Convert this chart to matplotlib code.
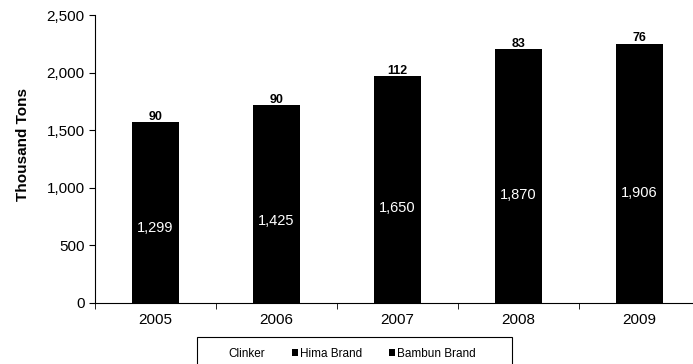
import matplotlib.pyplot as plt
from matplotlib.patches import Patch, Rectangle

plt.rcParams['font.family'] = ['Liberation Sans', 'DejaVu Sans']

years = ['2005', '2006', '2007', '2008', '2009']
clinker = [1299, 1425, 1650, 1870, 1906]
hima_brand = [182, 201, 210, 251, 271]
bambun_brand = [90, 90, 112, 83, 76]

fig = plt.figure(figsize=(6.93, 3.64), dpi=100)
ax = fig.add_axes([0.137, 0.168, 0.873, 0.79])

x = list(range(len(years)))
width = 0.39
bottom2 = [c + h for c, h in zip(clinker, hima_brand)]
totals = [b + t for b, t in zip(bottom2, bambun_brand)]

ax.bar(x, clinker, width, color='black', label='Clinker')
ax.bar(x, hima_brand, width, bottom=clinker, color='black', label='Hima Brand')
ax.bar(x, bambun_brand, width, bottom=bottom2, color='black', label='Bambun Brand')

for i in x:
    ax.text(i, clinker[i] / 2, f"{clinker[i]:,}", color='white', ha='center',
            va='center', fontsize=10.5)
    ax.text(i, totals[i] - 5, str(bambun_brand[i]), color='black', ha='center',
            va='bottom', fontsize=9, fontweight='bold')

ax.set_xlim(-0.5, 4.5)
ax.set_ylim(0, 2500)
ax.set_yticks(range(0, 2501, 500))
ax.set_yticklabels([f"{v:,}" for v in range(0, 2501, 500)], fontsize=11)
ax.set_xticks(x)
ax.set_xticklabels(years, fontsize=11)
ax.set_xticks([i - 0.5 for i in range(len(years) + 1)], minor=True)
ax.tick_params(axis='x', which='major', length=0, pad=7)
ax.tick_params(axis='x', which='minor', length=4, direction='out')
ax.tick_params(axis='y', length=4, direction='out')
ax.spines['top'].set_visible(False)
ax.spines['right'].set_visible(False)
ax.set_ylabel('Thousand Tons', fontsize=11, fontweight='bold')
ax.yaxis.set_label_coords(-0.108, 0.55)

# legend: Clinker has no visible swatch, the brands get small black squares
handles = [Patch(facecolor='white', edgecolor='white', label='Clinker'),
           Patch(facecolor='black', label='Hima Brand'),
           Patch(facecolor='black', label='Bambun Brand')]
fig.legend(handles=handles, loc='center left', bbox_to_anchor=(0.310, 0.0275),
           ncol=3, fontsize=8.5, frameon=False, handlelength=0.5,
           handleheight=0.5, handletextpad=0.15, columnspacing=2.3,
           borderpad=0)
fig.add_artist(Rectangle((197 / 693, -0.05), 315 / 693, 0.1242,
                         transform=fig.transFigure, fill=False,
                         edgecolor='black', linewidth=0.8))

fig.savefig('out.png', dpi=100)
